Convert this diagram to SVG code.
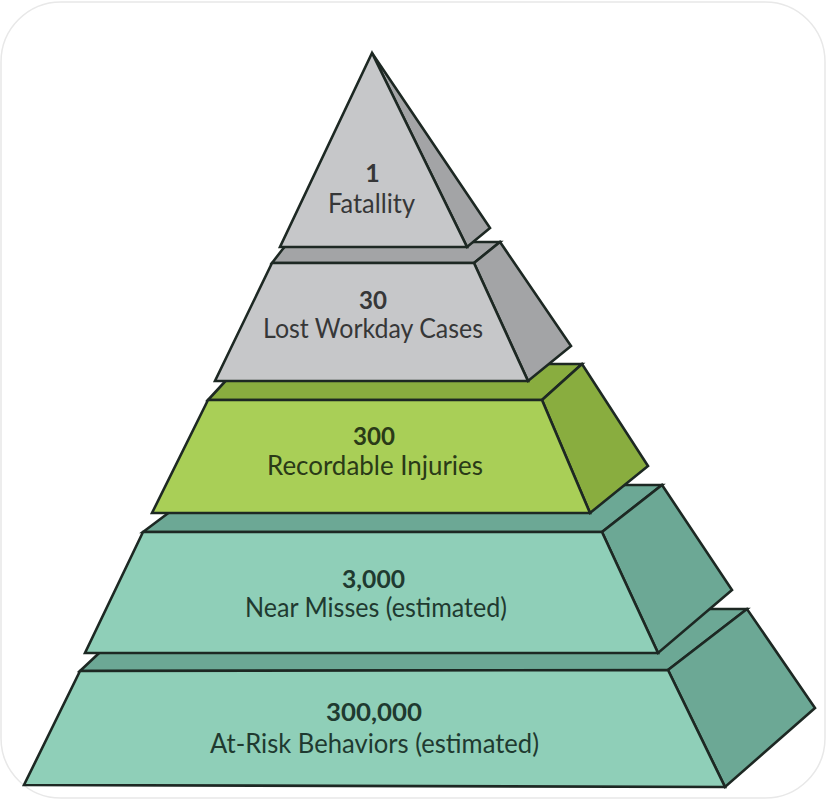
<svg xmlns="http://www.w3.org/2000/svg" width="827" height="801" viewBox="0 0 827 801">
<style>
.edge{stroke:#1d2823;stroke-width:2.6;stroke-linejoin:miter}
.gF{fill:#c6c7c9}.gD{fill:#a3a4a6}
.lF{fill:#a9cf57}.lD{fill:#89ad3f}
.tF{fill:#8fcfb8}.tD{fill:#6ca895}
.num{font-family:Lato,"Open Sans","Liberation Sans",sans-serif;font-weight:700;font-size:25px;text-anchor:middle}
.lbl{font-family:Lato,"Open Sans","Liberation Sans",sans-serif;font-weight:400;font-size:26px;text-anchor:middle}
.gT{fill:#363738}.lT{fill:#2a3a17}.tT{fill:#1f3a30}
</style>
<rect x="1" y="2" width="824" height="796" rx="60" ry="60" fill="#ffffff" stroke="#e8e8e8" stroke-width="1.5"/>

<g id="tier5">
<polygon class="tD edge" points="80,671 97,655 146,609 747,609 668,670"/>
<polygon class="tD edge" points="668,670 747,609 815,708 725,787"/>
<polygon class="tF edge" points="80,671 668,670 725,787 24,785"/>
<text class="num tT" x="374" y="721" textLength="96" lengthAdjust="spacingAndGlyphs">300,000</text>
<text class="lbl tT" x="374.5" y="753" textLength="329" lengthAdjust="spacingAndGlyphs">At-Risk Behaviors (estimated)</text>
</g>

<g id="tier4">
<polygon class="tD edge" points="143,532 163,517 206,485 662,485 602,532"/>
<polygon class="tD edge" points="602,532 662,485 732,590 658,653"/>
<polygon class="tF edge" points="143,532 602,532 658,653 85,653"/>
<text class="num tT" x="373.5" y="588" textLength="63" lengthAdjust="spacingAndGlyphs">3,000</text>
<text class="lbl tT" x="376" y="617" textLength="262" lengthAdjust="spacingAndGlyphs">Near Misses (estimated)</text>
</g>

<g id="tier3">
<polygon class="lD edge" points="208,400 220,387 241,364 582,364 542,400"/>
<polygon class="lD edge" points="542,400 582,364 648,466 590,513"/>
<polygon class="lF edge" points="208,400 542,400 590,513 152,513"/>
<text class="num lT" x="374" y="445" textLength="42" lengthAdjust="spacingAndGlyphs">300</text>
<text class="lbl lT" x="375" y="475" textLength="216" lengthAdjust="spacingAndGlyphs">Recordable Injuries</text>
</g>

<g id="tier2">
<polygon class="gD edge" points="272,263 282,250 289,242 500,242 474,263"/>
<polygon class="gD edge" points="474,263 500,242 571,346 528,381"/>
<polygon class="gF edge" points="272,263 474,263 528,381 215,381"/>
<text class="num gT" x="373" y="309" textLength="28" lengthAdjust="spacingAndGlyphs">30</text>
<text class="lbl gT" x="373" y="338" textLength="220" lengthAdjust="spacingAndGlyphs">Lost Workday Cases</text>
</g>

<g id="tier1">
<polygon class="gD edge" points="372,53 490,228 467,247"/>
<polygon class="gF edge" points="372,53 467,247 280,247"/>
<text class="num gT" x="372.5" y="182">1</text>
<text class="lbl gT" x="371.5" y="213" textLength="87" lengthAdjust="spacingAndGlyphs">Fatallity</text>
</g>
</svg>
